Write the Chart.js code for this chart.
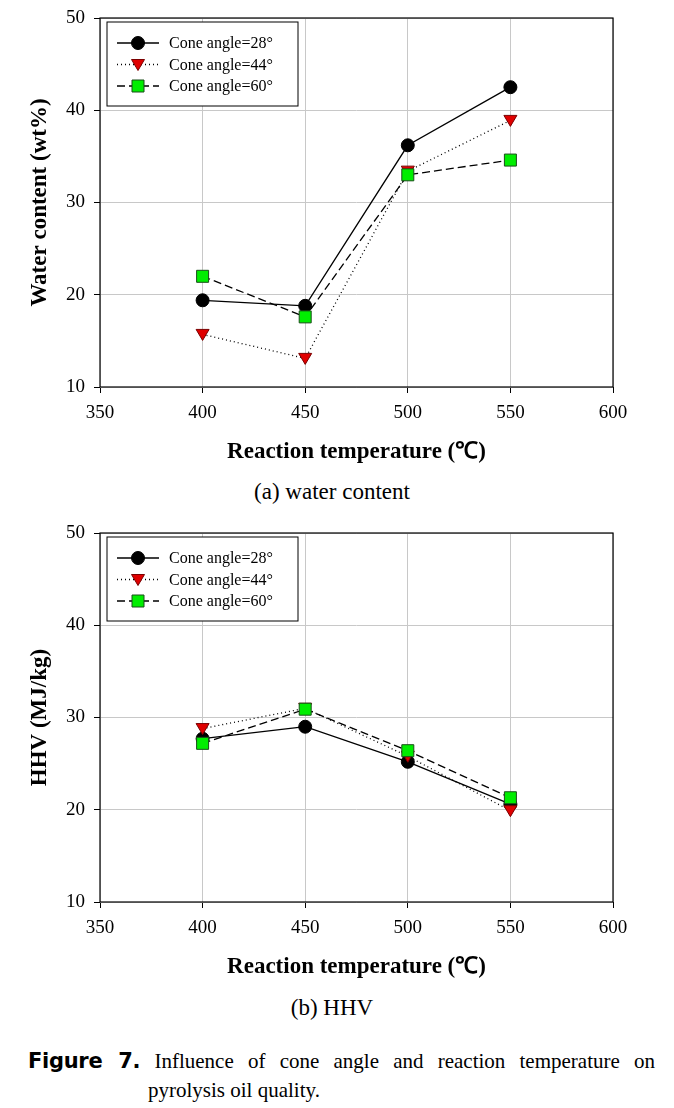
<!DOCTYPE html>
<html>
<head>
<meta charset="utf-8">
<script src="https://cdn.jsdelivr.net/npm/chart.js@4/dist/chart.umd.min.js"></script>
<style>
  body { margin: 0; background: #fff; width: 674px; height: 1108px; position: relative; overflow: hidden; }
  canvas { position: absolute; left: 0; }
  .sub { position: absolute; left: 0; width: 664px; text-align: center; font-family: "Liberation Serif", serif; font-size: 23px; color: #000; line-height: 28px; }
  .cap { position: absolute; font-size: 21px; color: #000; font-family: "Liberation Serif", serif; line-height: 24px; }
  .cap b { font-family: "DejaVu Sans", sans-serif; font-weight: bold; font-size: 21px; letter-spacing: -0.3px; }
  .just { text-align: justify; text-align-last: justify; }
</style>
</head>
<body>
<canvas id="chartWater" width="674" height="475" style="top:0px"></canvas>
<div class="sub" style="top:478px">(a) water content</div>
<canvas id="chartHHV" width="674" height="475" style="top:515px"></canvas>
<div class="sub" style="top:994px">(b) HHV</div>
<div class="cap just" style="left:28px; width:627px; top:1049px"><b>Figure 7.</b> Influence of cone angle and reaction temperature on</div>
<div class="cap" style="left:148px; top:1078px">pyrolysis oil quality.</div>

<script>
// donnees
const temperatures = [400, 450, 500, 550];
const seriesNames = ["Cone angle=28°", "Cone angle=44°", "Cone angle=60°"];

const water28 = [19.4, 18.8, 36.2, 42.5];
const water44 = [15.7, 13.1, 33.4, 38.9];
const water60 = [22.0, 17.6, 33.0, 34.6];

const hhv28 = [27.7, 29.0, 25.2, 20.6];
const hhv44 = [28.8, 31.0, 25.8, 19.9];
const hhv60 = [27.2, 30.9, 26.4, 21.3];

const xTicks = [350, 400, 450, 500, 550, 600];
const yTicks = [10, 20, 30, 40, 50];

const serif = "'Liberation Serif', 'Times New Roman', serif";

function toPoints(values) {
  return temperatures.map((t, i) => ({ x: t, y: values[i] }));
}

// styles des trois series
const seriesStyles = [
  { dash: [], marker: "circle", fill: "#000000", stroke: "#000000" },
  { dash: [1, 3], marker: "triangleDown", fill: "#e00000", stroke: "#7a0000" },
  { dash: [8, 4], marker: "square", fill: "#00ee00", stroke: "#1a4d1a" }
];

function drawMarker(ctx, kind, x, y, fill, stroke) {
  ctx.save();
  ctx.fillStyle = fill;
  ctx.strokeStyle = stroke;
  ctx.lineWidth = 1;
  ctx.setLineDash([]);
  ctx.beginPath();
  if (kind === "circle") {
    ctx.arc(x, y, 6.5, 0, Math.PI * 2);
  } else if (kind === "triangleDown") {
    ctx.moveTo(x - 6.5, y - 5);
    ctx.lineTo(x + 6.5, y - 5);
    ctx.lineTo(x, y + 6);
    ctx.closePath();
  } else {
    ctx.rect(x - 6, y - 6, 12, 12);
  }
  ctx.fill();
  ctx.stroke();
  ctx.restore();
}

// cadre noir autour de la zone de trace
const framePlugin = {
  id: "frame",
  beforeDatasetsDraw(chart) {
    const a = chart.chartArea;
    const ctx = chart.ctx;
    ctx.save();
    ctx.strokeStyle = "#000";
    ctx.lineWidth = 1.2;
    ctx.strokeRect(a.left, a.top, a.right - a.left, a.bottom - a.top);
    ctx.restore();
  }
};

// marqueurs dessines a la main
const markerPlugin = {
  id: "markers",
  afterDatasetsDraw(chart) {
    const ctx = chart.ctx;
    chart.data.datasets.forEach((ds, i) => {
      const meta = chart.getDatasetMeta(i);
      const st = seriesStyles[i];
      meta.data.forEach(pt => drawMarker(ctx, st.marker, pt.x, pt.y, st.fill, st.stroke));
    });
  }
};

// legende dans le coin en haut a gauche
const legendPlugin = {
  id: "legendBox",
  afterDraw(chart) {
    const ctx = chart.ctx;
    const a = chart.chartArea;
    const x0 = a.left + 7, y0 = a.top + 4, w = 191, h = 84;
    ctx.save();
    ctx.fillStyle = "#fff";
    ctx.fillRect(x0, y0, w, h);
    ctx.strokeStyle = "#000";
    ctx.lineWidth = 1;
    ctx.strokeRect(x0, y0, w, h);
    chart.data.datasets.forEach((ds, i) => {
      const st = seriesStyles[i];
      const y = y0 + 21 + i * 21.5;
      ctx.beginPath();
      ctx.setLineDash(st.dash);
      ctx.strokeStyle = "#000";
      ctx.lineWidth = 1.3;
      ctx.moveTo(x0 + 10, y);
      ctx.lineTo(x0 + 52, y);
      ctx.stroke();
      drawMarker(ctx, st.marker, x0 + 31, y, st.fill, st.stroke);
      ctx.setLineDash([]);
      ctx.fillStyle = "#000";
      ctx.font = "16px " + serif;
      ctx.textBaseline = "middle";
      ctx.fillText(ds.label, x0 + 62, y + 1);
    });
    ctx.restore();
  }
};

function makeChart(canvasId, seriesValues, yTitle) {
  const datasets = seriesValues.map((vals, i) => ({
    label: seriesNames[i],
    data: toPoints(vals),
    borderColor: "#000",
    borderWidth: 1.3,
    borderDash: seriesStyles[i].dash,
    pointRadius: 0,
    pointHoverRadius: 0,
    fill: false,
    tension: 0
  }));

  return new Chart(document.getElementById(canvasId), {
    type: "line",
    data: { datasets: datasets },
    plugins: [framePlugin, markerPlugin, legendPlugin],
    options: {
      responsive: false,
      animation: false,
      events: [],
      layout: { padding: { top: 18, right: 61, left: 0, bottom: 0 } },
      plugins: { legend: { display: false }, tooltip: { enabled: false } },
      scales: {
        x: {
          type: "linear",
          min: 350,
          max: 600,
          afterBuildTicks: s => { s.ticks = xTicks.map(v => ({ value: v })); },
          afterFit: s => { s.height = 88; s.paddingLeft = 0; s.paddingRight = 0; },
          grid: { color: "#c8c8c8", tickColor: "#000", tickLength: 6, lineWidth: 1 },
          border: { display: false },
          ticks: { color: "#000", font: { family: serif, size: 19 }, padding: 9, maxRotation: 0 },
          title: {
            display: true,
            text: "Reaction temperature (℃)",
            color: "#000",
            font: { family: serif, size: 23, weight: "bold" },
            padding: { top: 0, bottom: 9 }
          }
        },
        y: {
          min: 10,
          max: 50,
          afterBuildTicks: s => { s.ticks = yTicks.map(v => ({ value: v })); },
          afterFit: s => { s.width = 100; s.paddingTop = 0; s.paddingBottom = 0; },
          grid: { color: "#c8c8c8", tickColor: "#000", tickLength: 6, lineWidth: 1 },
          border: { display: false },
          ticks: { color: "#000", font: { family: serif, size: 19 }, padding: 9 },
          title: {
            display: true,
            text: yTitle,
            color: "#000",
            font: { family: serif, size: 23, weight: "bold" },
            padding: { top: 26, bottom: 0 }
          }
        }
      }
    }
  });
}

makeChart("chartWater", [water28, water44, water60], "Water content (wt%)");
makeChart("chartHHV", [hhv28, hhv44, hhv60], "HHV (MJ/kg)");
</script>
</body>
</html>
